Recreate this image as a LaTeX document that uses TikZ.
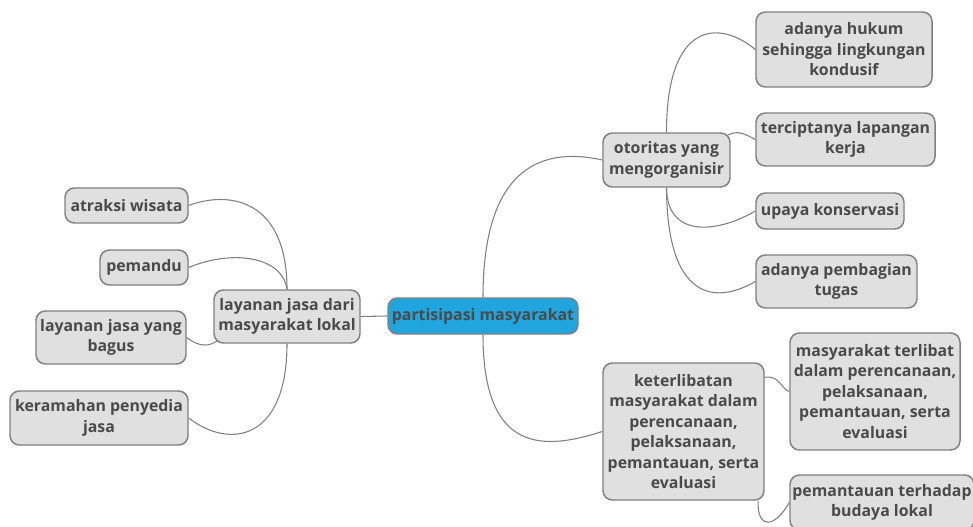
\documentclass[tikz,border=0pt]{standalone}
\usepackage{fontspec}
\setmainfont{Open Sans}
\definecolor{txt}{RGB}{74,74,74}
\definecolor{bfill}{RGB}{224,224,224}
\definecolor{bline}{RGB}{128,128,128}
\definecolor{cfill}{RGB}{33,165,222}
\begin{document}
\begin{tikzpicture}[x=0.75pt,y=-0.75pt,
  box/.style 2 args={draw=bline,line width=1.1pt,fill=bfill,rounded corners=7pt,
    inner sep=0pt,align=center,text=txt,
    font=\bfseries\fontsize{11.9pt}{15.4pt}\selectfont,
    minimum width=#1*0.75pt,minimum height=#2*0.75pt},
  link/.style={draw=bline,line width=0.8pt}]
\useasboundingbox (0,0) rectangle (973,527);
% central
\node[box={190}{36},fill=cfill] (cent) at (483,316) {partisipasi masyarakat};
% right upper
\node[box={127}{54}] (otor) at (666.5,160) {otoritas yang\\mengorganisir};
\node[box={176}{75}] (huk) at (844,49.5) {adanya hukum\\sehingga lingkungan\\kondusif};
\node[box={179}{53}] (cip) at (845.5,139.5) {terciptanya lapangan\\kerja};
\node[box={148}{36}] (upa) at (830,211) {upaya konservasi};
\node[box={161}{53}] (bag) at (836.5,281.5) {adanya pembagian\\tugas};
% right lower
\node[box={161}{137}] (ket) at (683.5,431.5) {keterlibatan\\masyarakat dalam\\perencanaan,\\pelaksanaan,\\pemantauan, serta\\evaluasi};
\node[box={170}{117}] (mas) at (875,391.5) {masyarakat terlibat\\dalam perencanaan,\\pelaksanaan,\\pemantauan, serta\\evaluasi};
\node[box={184}{55}] (pbl) at (882,502.5) {pemantauan terhadap\\budaya lokal};
% left
\node[box={146}{53}] (lay) at (287,316.5) {layanan jasa dari\\masyarakat lokal};
\node[box={123}{35}] (atr) at (126.5,205.5) {atraksi wisata};
\node[box={88}{35}] (pmd) at (144,267.5) {pemandu};
\node[box={150}{53}] (bgs) at (111,337.5) {layanan jasa yang\\bagus};
\node[box={178}{54}] (ker) at (99,418) {keramahan penyedia\\jasa};
% connectors
\draw[link] (cent.west) -- (lay.east);
\draw[link] (cent.north) .. controls (483,175) and (535,145) .. (otor.west);
\draw[link] (cent.south) .. controls (483,455) and (545,450) .. (ket.west);
\draw[link] (otor.north) .. controls (666.5,20) and (720,20) .. (huk.west);
\draw[link] ([xshift=-2pt,yshift=-2pt]otor.north east) .. controls (738,130) and (745,134) .. (cip.west);
\draw[link] (otor.south) .. controls (667,240) and (720,232) .. (upa.west);
\draw[link] (otor.south) .. controls (667,300) and (715,305) .. (bag.west);
\draw[link] ([yshift=-11.25pt]ket.north east) .. controls (780,375) and (782,390) .. (mas.west);
\draw[link] ([xshift=-5pt]ket.south east) .. controls (757,530) and (775,528) .. (pbl.west);
\draw[link] (lay.north) .. controls (287,200) and (230,190) .. (atr.east);
\draw[link] (lay.north) .. controls (282,255) and (230,250) .. (pmd.east);
\draw[link] (bgs.east) .. controls (200,348) and (210,346) .. ([xshift=3pt,yshift=2.25pt]lay.south west);
\draw[link] (lay.south) .. controls (287,440) and (230,450) .. (ker.east);
\end{tikzpicture}
\end{document}
